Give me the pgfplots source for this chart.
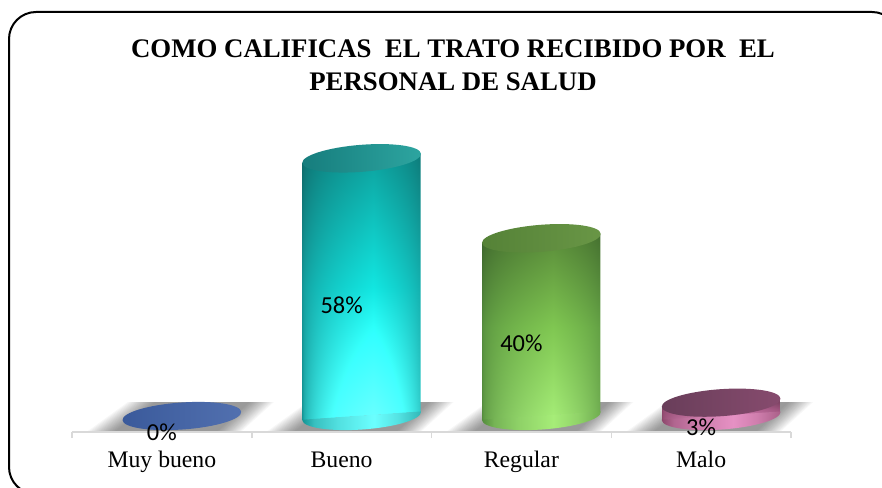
\documentclass[border=0pt]{standalone}
\usepackage{pgfplots}
\pgfplotsset{compat=1.18}
\usepackage{fontspec}
\setmainfont{Liberation Serif}
\newfontfamily\calibri{Carlito}
% two-dimensional cylinder shading: x gives the hump, y gives the darkening above and the glow below
\newcommand\cylshade[8]{\pgfdeclarefunctionalshading{#1}{\pgfpointorigin}{\pgfpoint{100bp}{100bp}}{}{
  25 sub 50 div exch 25 sub 50 div
  dup 0.6 lt {0.6 sub neg 0.6 div} {0.6 sub 0.4 div 0.9 mul} ifelse 1 exch sub dup 0 lt {pop 0} if sqrt
  exch dup 0.5 sub dup 0 lt {pop 0} if 0.6 mul 1 exch sub
  exch 0.5 exch sub dup 0 lt {pop 0} if #8 mul 2 index mul
  2 index #5 #2 sub mul #2 add 2 index mul 1 index add 4 1 roll
  2 index #6 #3 sub mul #3 add 2 index mul 1 index add 4 1 roll
  2 index #7 #4 sub mul #4 add 2 index mul 1 index add 4 1 roll
  pop pop pop
}}
\cylshade{cylteal}{0.08}{0.58}{0.58}{0.07}{0.90}{0.88}{0.7}
\cylshade{cylgreen}{0.33}{0.55}{0.24}{0.50}{0.78}{0.32}{0.3}
\cylshade{cylpink}{0.55}{0.28}{0.42}{0.75}{0.42}{0.62}{0.3}
\definecolor{botT1}{RGB}{20,148,148}\definecolor{botT2}{RGB}{107,255,255}
\definecolor{botG1}{RGB}{84,140,61}\definecolor{botG2}{RGB}{166,237,120}
\definecolor{botP1}{RGB}{140,71,107}\definecolor{botP2}{RGB}{230,145,196}
\newcommand\botshade[3]{\pgfdeclarehorizontalshading{#1}{100bp}{color(0bp)=(#2);color(25bp)=(#2);color(30bp)=(#3!41!#2);color(40bp)=(#3!71!#2);color(55bp)=(#3);color(65bp)=(#3!74!#2);color(75bp)=(#3!32!#2);color(100bp)=(#3!32!#2)}}
\botshade{botteal}{botT1}{botT2}
\botshade{botgreen}{botG1}{botG2}
\botshade{botpink}{botP1}{botP2}
\pgfdeclareplotmark{floorshadow}{%
  \foreach \n in {0,...,15}{%
    \pgfmathsetmacro{\l}{\n*1.8}\pgfmathsetmacro{\r}{\n*1.6}%
    \fill[black,fill opacity=.03,draw=none] (20pt-94pt+\l pt,-15pt) -- (20pt-54pt+\l pt,14pt) -- (20pt+92pt-\r pt,14pt) -- (20pt+60pt-\r pt,-15pt) -- cycle;
  }}
\newcommand\capmark[4]{\pgfdeclareplotmark{#1}{%
  \pgftransformxshift{20pt}\pgftransformrotate{#4}%
  \shade[left color=#2,right color=#3,draw=none] (0pt,0pt) ellipse [x radius=59.5pt,y radius=13.5pt];}}
\newcommand\basemark[3]{\pgfdeclareplotmark{#1}{%
  \pgftransformxshift{20pt}\pgftransformrotate{#3}%
  \shade[shading=#2,draw=none] (59.5pt,0.4pt) -- (59.5pt,0pt) arc [start angle=0,end angle=-180,x radius=59.5pt,y radius=13.5pt] -- (-59.5pt,0.4pt) -- cycle;}}
\definecolor{capB1}{RGB}{58,90,155}\definecolor{capB2}{RGB}{82,112,175}
\definecolor{capT1}{RGB}{22,125,125}\definecolor{capT2}{RGB}{45,165,160}
\definecolor{capG1}{RGB}{85,130,55}\definecolor{capG2}{RGB}{105,150,70}
\definecolor{capP1}{RGB}{105,62,90}\definecolor{capP2}{RGB}{135,75,110}
\capmark{capB}{capB1}{capB2}{4}
\capmark{capT}{capT1}{capT2}{4.5}
\capmark{capG}{capG1}{capG2}{4.5}
\capmark{capP}{capP1}{capP2}{4}
\basemark{botT}{botteal}{4}
\basemark{botG}{botgreen}{4}
\basemark{botP}{botpink}{4}
\pgfplotsset{cylaxis/.style={
  at={(72pt,55pt)},anchor=south west,scale only axis,
  width=719pt,height=327pt,
  xmin=-0.5,xmax=3.5,ymin=-3.6,ymax=70,
  clip=false}}
\begin{document}
\begin{tikzpicture}[x=1pt,y=1pt]
\useasboundingbox (0,0) rectangle (882,487);
\clip (0,0) rectangle (882,487);
\draw[black,line width=2pt,rounded corners=27pt] (9,-7) rectangle (899,475);
\node[align=center,font=\bfseries\fontsize{26.8}{33}\selectfont,inner sep=0pt] at (453,421.5) {COMO CALIFICAS\ \ EL TRATO RECIBIDO POR\ \ EL\\PERSONAL DE SALUD};
% floor shadows, in an axis of their own so that they lie behind everything
\begin{axis}[cylaxis,hide axis]
\addplot[only marks,mark=floorshadow] coordinates {(0,0) (1,0) (2,0) (3,0)};
\end{axis}
\begin{axis}[cylaxis,
  axis x line=bottom,axis y line=none,
  axis line style={-,draw=black!15,line width=1.5pt},
  xtick={0,1,2,3},xticklabels={Muy bueno,Bueno,Regular,Malo},
  major tick length=0pt,
  minor xtick={-0.5,0.5,1.5,2.5,3.5},minor tick length=6pt,
  minor tick style={draw=black!15,line width=1.5pt},
  xtick align=outside,
  x tick label style={font=\fontsize{23.7}{26}\selectfont,yshift=-35pt,inner sep=0pt,anchor=base,text height=15pt},
  bar width=118pt,bar shift=20pt,
  ]
% Muy bueno
\addplot[only marks,mark=capB] coordinates {(0,0)};
% Bueno
\addplot[only marks,mark=botT] coordinates {(1,0)};
\addplot[ybar,draw=none,shading=cylteal,yslant=0.07,yshift=-20.2pt] coordinates {(1,58)};
\addplot[only marks,mark=capT] coordinates {(1,58)};
% Regular
\addplot[only marks,mark=botG] coordinates {(2,0)};
\addplot[ybar,draw=none,shading=cylgreen,yslant=0.07,yshift=-32.9pt] coordinates {(2,40)};
\addplot[only marks,mark=capG] coordinates {(2,40)};
% Malo
\addplot[only marks,mark=botP] coordinates {(3,0)};
\addplot[ybar,draw=none,shading=cylpink,yslant=0.07,yshift=-45.5pt] coordinates {(3,3)};
\addplot[only marks,mark=capP] coordinates {(3,3)};
% labels
\addplot[draw=none,mark=none,point meta=explicit symbolic,nodes near coords,
  nodes near coords style={anchor=center,text=black,inner sep=0pt,font=\calibri\fontsize{24.4}{26}\selectfont}]
  coordinates {(0,-3.6)[0\%] (1,25)[58\%] (2,16.4)[40\%] (3,-2.5)[3\%]};
\end{axis}
\end{tikzpicture}
\end{document}
